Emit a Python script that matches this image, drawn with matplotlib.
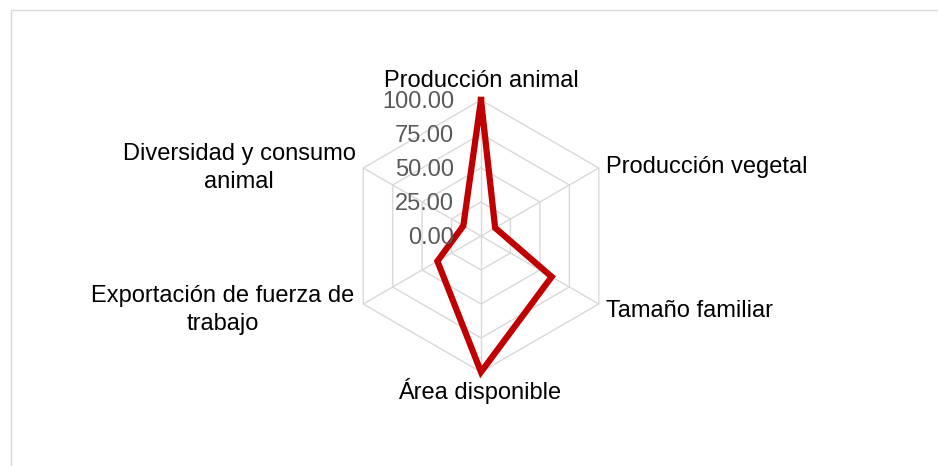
import numpy as np
import matplotlib
matplotlib.use("Agg")
import matplotlib.pyplot as plt
from matplotlib.patches import Rectangle

plt.rcParams['font.family'] = ['Liberation Sans', 'DejaVu Sans']

# data
categories = ["Producción animal", "Producción vegetal", "Tamaño familiar",
              "Área disponible", "Exportación de fuerza de\ntrabajo",
              "Diversidad y consumo\nanimal"]
values = [100, 12, 60, 100, 37, 15]
ticks = [0, 25, 50, 75, 100]
tick_labels = ["0.00", "25.00", "50.00", "75.00", "100.00"]

W, H = 938, 466
cx, cy = 481, 236          # centre in pixels (from top)
scale = 1.36               # pixels per unit

fig = plt.figure(figsize=(W / 100, H / 100), dpi=100)
ax = fig.add_axes([0, 0, 1, 1])
ax.set_xlim(-cx / scale, (W - cx) / scale)
ax.set_ylim(-(H - cy) / scale, cy / scale)
ax.axis("off")

n = len(categories)
theta = np.arange(n) * 2 * np.pi / n

def xy(r, t):
    return r * np.sin(t), r * np.cos(t)

def px(x, y):
    # pixel position (from top-left) -> data coords
    return (x - cx) / scale, (cy - y) / scale

# hexagonal grid
grid_c = "#d9d9d9"
for r in ticks[1:]:
    t = np.append(theta, theta[0])
    gx, gy = xy(r, t)
    ax.plot(gx, gy, color=grid_c, lw=1.0, zorder=1)
for t in theta:
    gx, gy = xy(np.array([0, ticks[-1]]), t)
    ax.plot(gx, gy, color=grid_c, lw=1.0, zorder=1)

# series
v = np.append(values, values[0])
t = np.append(theta, theta[0])
sx, sy = xy(v, t)
ax.plot(sx, sy, color="#c00000", lw=4.5, solid_joinstyle="miter", zorder=3)

# radial tick labels
for r, lab in zip(ticks, tick_labels):
    ax.text(-27 / scale, r - 8.5 / scale, lab, ha="right", va="baseline",
            fontsize=17, color="#595959", zorder=4)

# category labels
fs = 17
ax.text(*px(481, 87), categories[0], ha="center", va="baseline", fontsize=fs)
ax.text(*px(606, 173), categories[1], ha="left", va="baseline", fontsize=fs)
ax.text(*px(606, 317), categories[2], ha="left", va="baseline", fontsize=fs)
ax.text(*px(480, 399), categories[3], ha="center", va="baseline", fontsize=fs)
ax.text(*px(223, 310), categories[4], ha="center", va="center",
        fontsize=fs, multialignment="center", linespacing=1.3)
ax.text(*px(239, 168), categories[5], ha="center", va="center",
        fontsize=fs, multialignment="center", linespacing=1.3)

# chart border
fig.patches.append(Rectangle((10.5 / W, -0.1), 1.2, 1 - 9.5 / H + 0.1,
                             transform=fig.transFigure, fill=False,
                             edgecolor="#d9d9d9", lw=1.0))

fig.savefig("out.png", dpi=100)
